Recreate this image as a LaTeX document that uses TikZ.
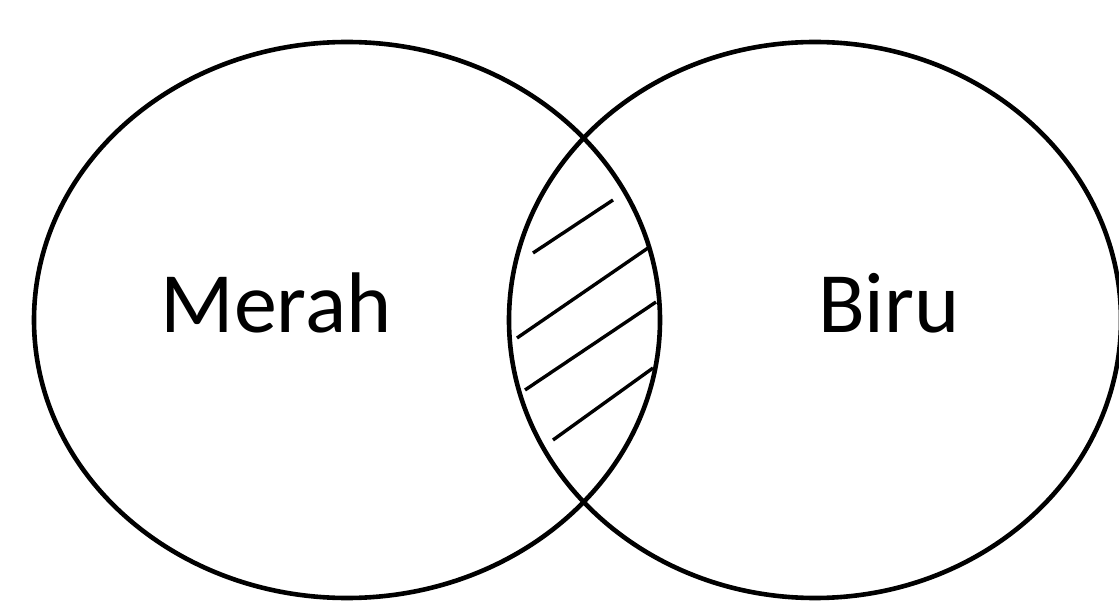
\documentclass[tikz,border=0pt]{standalone}
\usepackage{fontspec}
\setmainfont{Carlito}
\usetikzlibrary{shapes.geometric}

\begin{document}
\begin{tikzpicture}[x=1pt, y=-1pt, every node/.style={font=\fontsize{86}{90}\selectfont}, setbox/.style={draw, ellipse, line width=4.6pt, inner sep=0pt, minimum width=626pt, minimum height=556pt}, hatch/.style={line width=3.4pt}]
\clip (0,0) rectangle (1119,601);
\useasboundingbox (0,0) rectangle (1119,601);
\node[setbox] (merah) at (347,320) {};
\node[setbox, minimum width=612pt] (biru) at (815,320) {};
\node (lmerah) at (276,303) {Merah};
\node (lbiru) at (889,303) {Biru};
% arsiran irisan
\draw[hatch] (533,253) -- (613,200);
\draw[hatch] (517,338) -- (648,248);
\draw[hatch] (525,390) -- (656,302);
\draw[hatch] (553,440) -- (653,368);
\end{tikzpicture}
\end{document}
